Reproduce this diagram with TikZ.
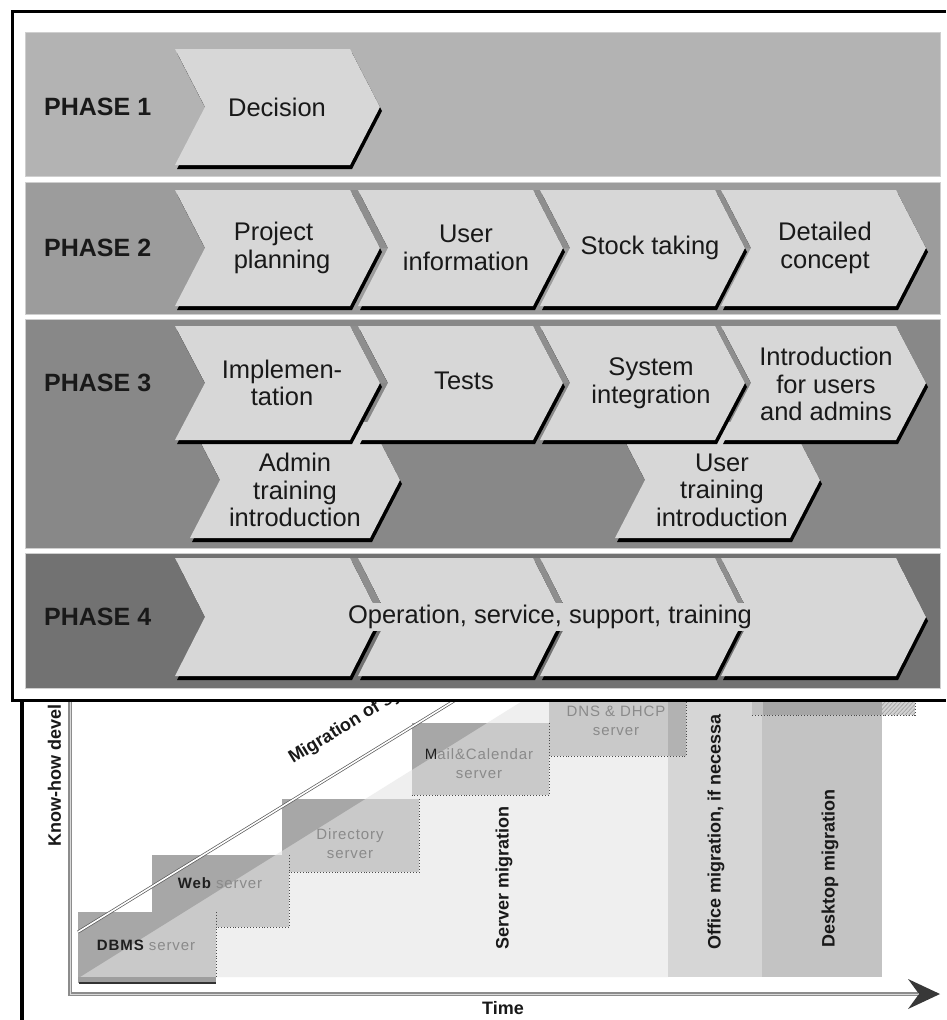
\documentclass[tikz,border=0pt]{standalone}
\usepackage{fontspec}
\setmainfont{Liberation Sans}
\newfontfamily\boxfont[LetterSpace=6]{Liberation Sans}
\usetikzlibrary{calc}

\definecolor{chevfill}{HTML}{D7D7D7}
\definecolor{stripc}{HTML}{8E8E8E}
\definecolor{bandA}{HTML}{B3B3B3}
\definecolor{bandB}{HTML}{9C9C9C}
\definecolor{bandC}{HTML}{888888}
\definecolor{bandD}{HTML}{727272}
\definecolor{bandedge}{HTML}{CFCFCF}
\definecolor{lightreg}{HTML}{EFEFEF}
\definecolor{officec}{HTML}{D6D6D6}
\definecolor{desktopc}{HTML}{C3C3C3}
\definecolor{boxlight}{HTML}{C9C9C9}
\definecolor{boxdark}{HTML}{A7A7A7}
\definecolor{barc}{HTML}{A6A6A6}
\definecolor{boxtxt}{HTML}{8A8A8A}
\definecolor{boxdtxt}{HTML}{1E1E1E}
\definecolor{axisc}{HTML}{8C8C8C}

\newcommand{\chevbox}[4]{% L T B W
  \fill[black] ({#1+2},{#2+4}) -- ({#1+#4+2},{#2+4}) -- ({#1+#4+32},{(#2+#3)/2+4}) -- ({#1+#4+2},{#3+4}) -- ({#1+2},{#3+4}) -- ({#1+32},{(#2+#3)/2+4}) -- cycle;
  \fill[chevfill] (#1,#2) -- ({#1+#4},#2) -- ({#1+#4+30},{(#2+#3)/2}) -- ({#1+#4},#3) -- (#1,#3) -- ({#1+30},{(#2+#3)/2}) -- cycle;
}
\newcommand{\chevstrip}[4]{% Lprev T B Lnext
  \fill[stripc] ({#1+175},#2) -- ({#1+205},{(#2+#3)/2}) -- ({#4+30},{(#2+#3)/2}) -- (#4,#2) -- cycle;
}
\newcommand{\srvbox}[4]{% x1 y1 x2 y2
  \fill[boxlight] (#1,#2) rectangle (#3,#4);
  \begin{scope}
    \clip (#1,#2) rectangle (#3,#4);
    \fill[boxdark] (80,977) -- (600,652.5) -- (0,652.5) -- (0,977) -- cycle;
  \end{scope}
  \draw[boxedge] (#3,#2) -- (#3,#4) -- (#1,#4);
}

\tikzset{
  chevtext/.style={font={\fontsize{25.5}{27.5}\selectfont}, align=center, inner sep=0pt, text=black!90},
  phaselab/.style={font={\fontsize{25}{28}\selectfont\bfseries}, anchor=west, inner sep=0pt, text=black!90},
  rotlab/.style={font={\fontsize{18}{20}\selectfont\bfseries}, rotate=90, anchor=west, inner sep=0pt, text=black!90},
  boxtext/.style={font={\boxfont\fontsize{15}{19}\selectfont}, align=center, inner sep=0pt, text=boxtxt},
  boxedge/.style={dotted, line width=0.9pt, draw=black!70},
  band/.style={draw=bandedge, line width=1pt},
}

\begin{document}
\begin{tikzpicture}[x=1pt,y=-1pt]
\useasboundingbox (0,0) rectangle (946,1020);
\fill[white] (0,0) rectangle (946,1020);

% ================= lower chart =================
\fill[lightreg] (80,977) -- (524,700) -- (668,700) -- (668,977) -- cycle;
\fill[officec] (668,700) rectangle (762,977);
\fill[desktopc] (762,700) rectangle (882,977);
% top bar
\fill[barc] (752,700) rectangle (882,715);
\fill[barc!70!white] (752,700) rectangle (763,715);
\fill[gray!35] (882,700) rectangle (915,715);
\begin{scope}
  \clip (882,700) rectangle (915,715);
  \foreach \i in {0,4,...,52} {\draw[gray!75, line width=0.6pt] ({868+\i},716) -- ({884+\i},699);}
\end{scope}
\draw[boxedge] (752,715) -- (915,715) -- (915,700);

% server boxes (drawn back to front)
\srvbox{549}{690}{686}{756}
\fill[black!30] (668,690) rectangle (686,756);
\draw[boxedge] (686,690) -- (686,756);
\srvbox{412}{723}{549}{795}
\srvbox{282}{799}{419}{872}
\srvbox{152}{855}{289}{927}
\srvbox{78}{912}{216}{977}
\fill[black!38] (78,977) rectangle (216,983);
\draw[black!80, line width=1.5pt] (79,983) -- (216,983);

% box labels
\node[boxtext] (dns) at (616,721) {DNS \& DHCP\\server};
\node[boxtext] (mail) at (479,764) {\textcolor{boxdtxt}{M}ail\&Calendar\\server};
\node[boxtext] (dir) at (350,844) {Directory\\server};
\node[boxtext] (web) at (220,883) {\textcolor{boxdtxt}{\bfseries Web} server};
\node[boxtext] (dbms) at (146,945) {\textcolor{boxdtxt}{\bfseries DBMS} server};

% migration line
\coordinate (mig0) at (78,932);
\coordinate (mig1) at (462,696);
\draw[draw=black!65, line width=0.7pt, double=white, double distance=1.6pt] (mig0) -- (mig1);
\node[font={\fontsize{18}{20}\selectfont\bfseries}, rotate=31.5, anchor=base west, inner sep=0pt, text=black!90] (migtext) at (293,764) {Migration of sy};

% vertical labels
\node[rotlab] (srvmig) at (504,950) {Server migration};
\node[rotlab] (offmig) at (716,950) {Office migration, if necessa};
\node[rotlab] (deskmig) at (830,948) {Desktop migration};
\node[rotlab] (knowhow) at (54.5,847) {Know-how devel};

% axes
\coordinate (ytop) at (70,700);
\coordinate (origin) at (70,994);
\coordinate (xend) at (918,994);
\draw[axisc, line width=4pt] (ytop) -- (origin) -- (xend);
\draw[black!15, line width=1pt] (ytop) -- (origin) -- (xend);
\fill[black!78] (940,994) -- (908,979) -- (919,994) -- (908,1009) -- cycle;
\node[font={\fontsize{18}{20}\selectfont\bfseries}, inner sep=0pt, text=black!90] (time) at (503,1008) {Time};

% left line of lower frame
\draw[black, line width=3.5pt] (22,700) -- (22,1020);

% ================= upper phase diagram =================
\fill[white] (12,10) rectangle (946,700);
\draw[black, line width=3.5pt] (946,11.5) -- (12.5,11.5) -- (12.5,700.5) -- (946,700.5);

% bands
\fill[bandA, band] (25,32) rectangle (940,176);
\fill[bandB, band] (25,182) rectangle (940,314);
\fill[bandC, band] (25,319) rectangle (940,548);
\fill[bandD, band] (25,553) rectangle (940,688);

% phase labels
\node[phaselab] (ph1) at (44,107) {PHASE 1};
\node[phaselab] (ph2) at (44,248) {PHASE 2};
\node[phaselab] (ph3) at (44,383) {PHASE 3};
\node[phaselab] (ph4) at (44,617) {PHASE 4};

% phase 1
\chevbox{175}{49}{165}{175}
\node[chevtext] (t11) at (277,107) {Decision};

% phase 2
\chevstrip{175}{190}{306}{358}
\chevstrip{358}{190}{306}{540}
\chevstrip{540}{190}{306}{721}
\chevbox{175}{190}{306}{175}
\chevbox{358}{190}{306}{175}
\chevbox{540}{190}{306}{175}
\chevbox{721}{190}{306}{175}
\node[chevtext, align=left] (t21) at (282,248) {Project\\planning};
\node[chevtext] (t22) at (466,248) {User\\information};
\node[chevtext] (t23) at (650,248) {Stock taking};
\node[chevtext] (t24) at (825,248) {Detailed\\concept};

% phase 3, second row
\chevbox{190}{422}{538}{180}
\chevbox{615}{422}{538}{175}
% phase 3, first row
\chevstrip{175}{326}{440}{358}
\chevstrip{358}{326}{440}{540}
\chevstrip{540}{326}{440}{721}
\chevbox{175}{326}{440}{175}
\chevbox{358}{326}{440}{175}
\chevbox{540}{326}{440}{175}
\chevbox{721}{326}{440}{175}
\node[chevtext] (t31) at (282,383) {Implemen-\\tation};
\node[chevtext] (t32) at (464,381) {Tests};
\node[chevtext] (t33) at (651,383) {System\\integration};
\node[chevtext] (t34) at (826,384) {Introduction\\for users\\and admins};
\node[chevtext] (t35) at (295,490) {Admin\\training\\introduction};
\node[chevtext] (t36) at (722,490) {User\\training\\introduction};

% phase 4
\chevstrip{175}{558}{676}{358}
\chevstrip{358}{558}{676}{540}
\chevstrip{540}{558}{676}{721}
\chevbox{175}{558}{676}{175}
\chevbox{358}{558}{676}{175}
\chevbox{540}{558}{676}{175}
\chevbox{721}{558}{676}{175}
\node[chevtext, fill=chevfill, inner xsep=3pt, inner ysep=2pt] (t4) at (550,617) {Operation, service, support, training};
\end{tikzpicture}
\end{document}
